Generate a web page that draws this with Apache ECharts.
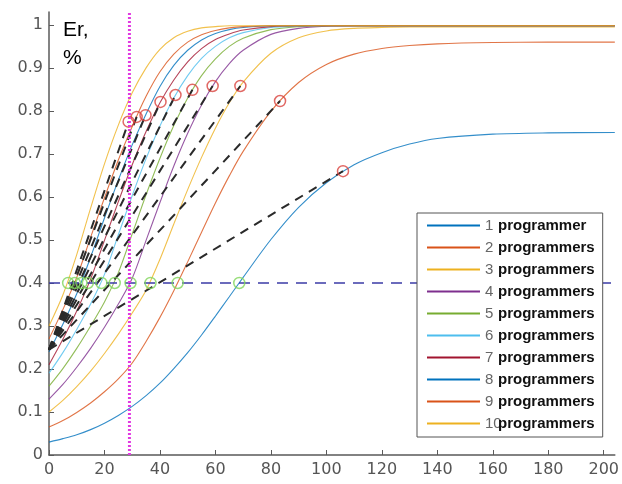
<!DOCTYPE html>
<html>
<head>
<meta charset="utf-8">
<script src="https://cdn.jsdelivr.net/npm/echarts@6/dist/echarts.min.js"></script>
<style>
  html, body { margin: 0; padding: 0; background: #fff; }
  #chart { width: 622px; height: 484px; }
</style>
</head>
<body>
<div id="chart"></div>
<script>
// sample positions along x (shared by every curve)
const xs = [0, 5, 10, 15, 20, 25, 30, 35, 40, 45, 50, 55, 60, 65, 70, 80, 90, 100, 110, 120, 130, 140, 160, 180, 204]

// Er curves, one per team size
const er1 = [0.030, 0.038, 0.047, 0.059, 0.074, 0.092, 0.113, 0.138, 0.167, 0.201, 0.238, 0.279, 0.323, 0.368, 0.413, 0.501, 0.576, 0.633, 0.675, 0.703, 0.723, 0.736, 0.746, 0.749, 0.750]
const er2 = [0.065, 0.080, 0.099, 0.121, 0.147, 0.177, 0.214, 0.264, 0.320, 0.382, 0.449, 0.518, 0.586, 0.649, 0.706, 0.799, 0.866, 0.908, 0.932, 0.945, 0.952, 0.956, 0.959, 0.960, 0.960]
const er3 = [0.100, 0.127, 0.159, 0.195, 0.236, 0.281, 0.330, 0.383, 0.455, 0.537, 0.617, 0.692, 0.760, 0.819, 0.867, 0.934, 0.970, 0.986, 0.992, 0.994, 0.995, 0.995, 0.995, 0.995, 0.995]
const er4 = [0.130, 0.164, 0.204, 0.248, 0.297, 0.351, 0.411, 0.499, 0.587, 0.672, 0.748, 0.814, 0.868, 0.910, 0.941, 0.978, 0.992, 0.997, 0.998, 0.998, 0.998, 0.998, 0.998, 0.998, 0.998]
const er5 = [0.160, 0.201, 0.248, 0.300, 0.356, 0.424, 0.514, 0.605, 0.690, 0.766, 0.830, 0.882, 0.921, 0.950, 0.969, 0.989, 0.996, 0.998, 0.998, 0.998, 0.998, 0.998, 0.998, 0.998, 0.998]
const er6 = [0.190, 0.238, 0.292, 0.351, 0.420, 0.512, 0.603, 0.689, 0.765, 0.830, 0.882, 0.922, 0.950, 0.970, 0.982, 0.994, 0.997, 0.998, 0.998, 0.998, 0.998, 0.998, 0.998, 0.998, 0.998]
const er7 = [0.210, 0.269, 0.335, 0.409, 0.499, 0.589, 0.675, 0.752, 0.819, 0.872, 0.914, 0.945, 0.966, 0.979, 0.988, 0.996, 0.998, 0.998, 0.998, 0.998, 0.998, 0.998, 0.998, 0.998, 0.998]
const er8 = [0.240, 0.304, 0.375, 0.460, 0.551, 0.639, 0.721, 0.793, 0.857, 0.906, 0.941, 0.965, 0.980, 0.989, 0.994, 0.998, 0.998, 0.998, 0.998, 0.998, 0.998, 0.998, 0.998, 0.998, 0.998]
const er9 = [0.270, 0.338, 0.413, 0.506, 0.598, 0.686, 0.764, 0.834, 0.891, 0.932, 0.960, 0.977, 0.987, 0.993, 0.996, 0.998, 0.998, 0.998, 0.998, 0.998, 0.998, 0.998, 0.998, 0.998, 0.998]
const er10 = [0.300, 0.372, 0.466, 0.574, 0.677, 0.767, 0.842, 0.900, 0.943, 0.970, 0.985, 0.993, 0.996, 0.998, 0.998, 0.998, 0.998, 0.998, 0.998, 0.998, 0.998, 0.998, 0.998, 0.998, 0.998]

const curveNames = ['1 programmer', '2 programmers', '3 programmers', '4 programmers', '5 programmers',
  '6 programmers', '7 programmers', '8 programmers', '9 programmers', '10 programmers']

// red markers (end of each dashed line)
const redX = [28.7, 31.6, 34.8, 40.2, 45.6, 51.7, 59, 69, 83.3, 106]
const redY = [0.775, 0.786, 0.79, 0.821, 0.837, 0.849, 0.858, 0.858, 0.823, 0.66]
// dashed lines start
const dashX0 = [0, 0, 0, 0, 0, 0, 0, 0, 0, 0]
const dashY0 = [0.245, 0.245, 0.245, 0.245, 0.245, 0.245, 0.245, 0.245, 0.245, 0.245]
// green markers on the Er = 0.4 level
const greenX = [6.9, 9.3, 11.7, 14.0, 18.9, 23.7, 29.4, 36.6, 46.4, 68.6]
const levelY = 0.4
const markerX = 29

const xTicks = [0, 20, 40, 60, 80, 100, 120, 140, 160, 180, 200]
const yTicks = [0, 0.1, 0.2, 0.3, 0.4, 0.5, 0.6, 0.7, 0.8, 0.9, 1]

const colors = ['#0072BD', '#D95319', '#EDB120', '#7E2F8E', '#77AC30', '#4DBEEE', '#A2142F', '#0072BD', '#D95319', '#EDB120']
const curves = [er1, er2, er3, er4, er5, er6, er7, er8, er9, er10]

const chart = echarts.init(document.getElementById('chart'))

const series = []
curves.forEach((ys, i) => {
  series.push({
    name: curveNames[i],
    type: 'line',
    data: xs.map((x, j) => [x, ys[j]]),
    smooth: 0.3,
    symbol: 'none',
    lineStyle: { color: colors[i], width: 1.1, opacity: 0.8 },
    itemStyle: { color: colors[i] },
    z: 2
  })
})
// black dashed connectors
redX.forEach((x, i) => {
  series.push({
    type: 'line',
    data: [[dashX0[i], dashY0[i]], [x, redY[i]]],
    symbol: 'none',
    lineStyle: { color: '#2a2a2a', width: 2, type: [9, 7] },
    z: 3
  })
})
// horizontal level line
series.push({
  type: 'line',
  data: [[0, levelY], [204, levelY]],
  symbol: 'none',
  lineStyle: { color: '#3b3ba6', width: 1.5, type: [11, 8] },
  z: 3
})
series.push({
  type: 'scatter',
  data: redX.map((x, i) => [x, redY[i]]),
  symbol: 'circle',
  symbolSize: 11,
  itemStyle: { color: 'rgba(0,0,0,0)', borderColor: '#d9443f', borderWidth: 1.5 },
  z: 4
})
series.push({
  type: 'scatter',
  data: greenX.map(x => [x, levelY]),
  symbol: 'circle',
  symbolSize: 11,
  itemStyle: { color: 'rgba(0,0,0,0)', borderColor: '#7fd65a', borderWidth: 1.5 },
  z: 4
})
// vertical magenta marker
series.push({
  type: 'line',
  data: [[markerX, 0], [markerX, 1.03]],
  symbol: 'none',
  lineStyle: { color: '#e13ae1', width: 3, type: [2, 2] },
  z: 5
})

const option = {
  animation: false,
  backgroundColor: '#fff',
  grid: { left: 49, right: 5, top: 12, bottom: 29 },
  xAxis: {
    type: 'value',
    min: 0,
    max: 204,
    axisLine: { show: true, lineStyle: { color: '#5a5a5a', width: 1.5 } },
    axisTick: { show: true, inside: true, length: 5, customValues: xTicks, lineStyle: { color: '#5a5a5a' } },
    axisLabel: { customValues: xTicks, color: '#555', fontSize: 16, fontFamily: 'DejaVu Sans', margin: 7 },
    splitLine: { show: false }
  },
  yAxis: {
    type: 'value',
    min: 0,
    max: 1.03,
    axisLine: { show: true, lineStyle: { color: '#5a5a5a', width: 1.5 } },
    axisTick: { show: true, inside: true, length: 5, customValues: yTicks, lineStyle: { color: '#5a5a5a' } },
    axisLabel: {
      customValues: yTicks,
      color: '#555',
      fontSize: 16,
      fontFamily: 'DejaVu Sans',
      margin: 6,
      formatter: v => String(+v.toFixed(1))
    },
    splitLine: { show: false }
  },
  legend: {
    data: curveNames,
    orient: 'vertical',
    left: 417,
    top: 213,
    padding: [5, 8, 6, 10],
    icon: 'rect',
    itemWidth: 53,
    itemHeight: 2,
    itemGap: 7,
    backgroundColor: '#fff',
    borderColor: '#555',
    borderWidth: 1,
    borderRadius: 0,
    formatter: name => {
      const k = name.indexOf(' ')
      return '{n|' + name.slice(0, k) + '}{p|' + name.slice(k + 1) + '}'
    },
    textStyle: {
      rich: {
        n: { color: '#666', fontSize: 15, fontFamily: 'Liberation Sans, Arial', width: 13, lineHeight: 18 },
        p: { color: '#111', fontSize: 15, fontWeight: 'bold', fontFamily: 'Liberation Sans, Arial', lineHeight: 18 }
      }
    }
  },
  graphic: [{
    type: 'text',
    left: 63,
    top: 16,
    style: { text: 'Er,\n%', fill: '#000', font: '21px "Liberation Sans", Arial', lineHeight: 28 }
  }],
  series: series
}

chart.setOption(option)
</script>
</body>
</html>
